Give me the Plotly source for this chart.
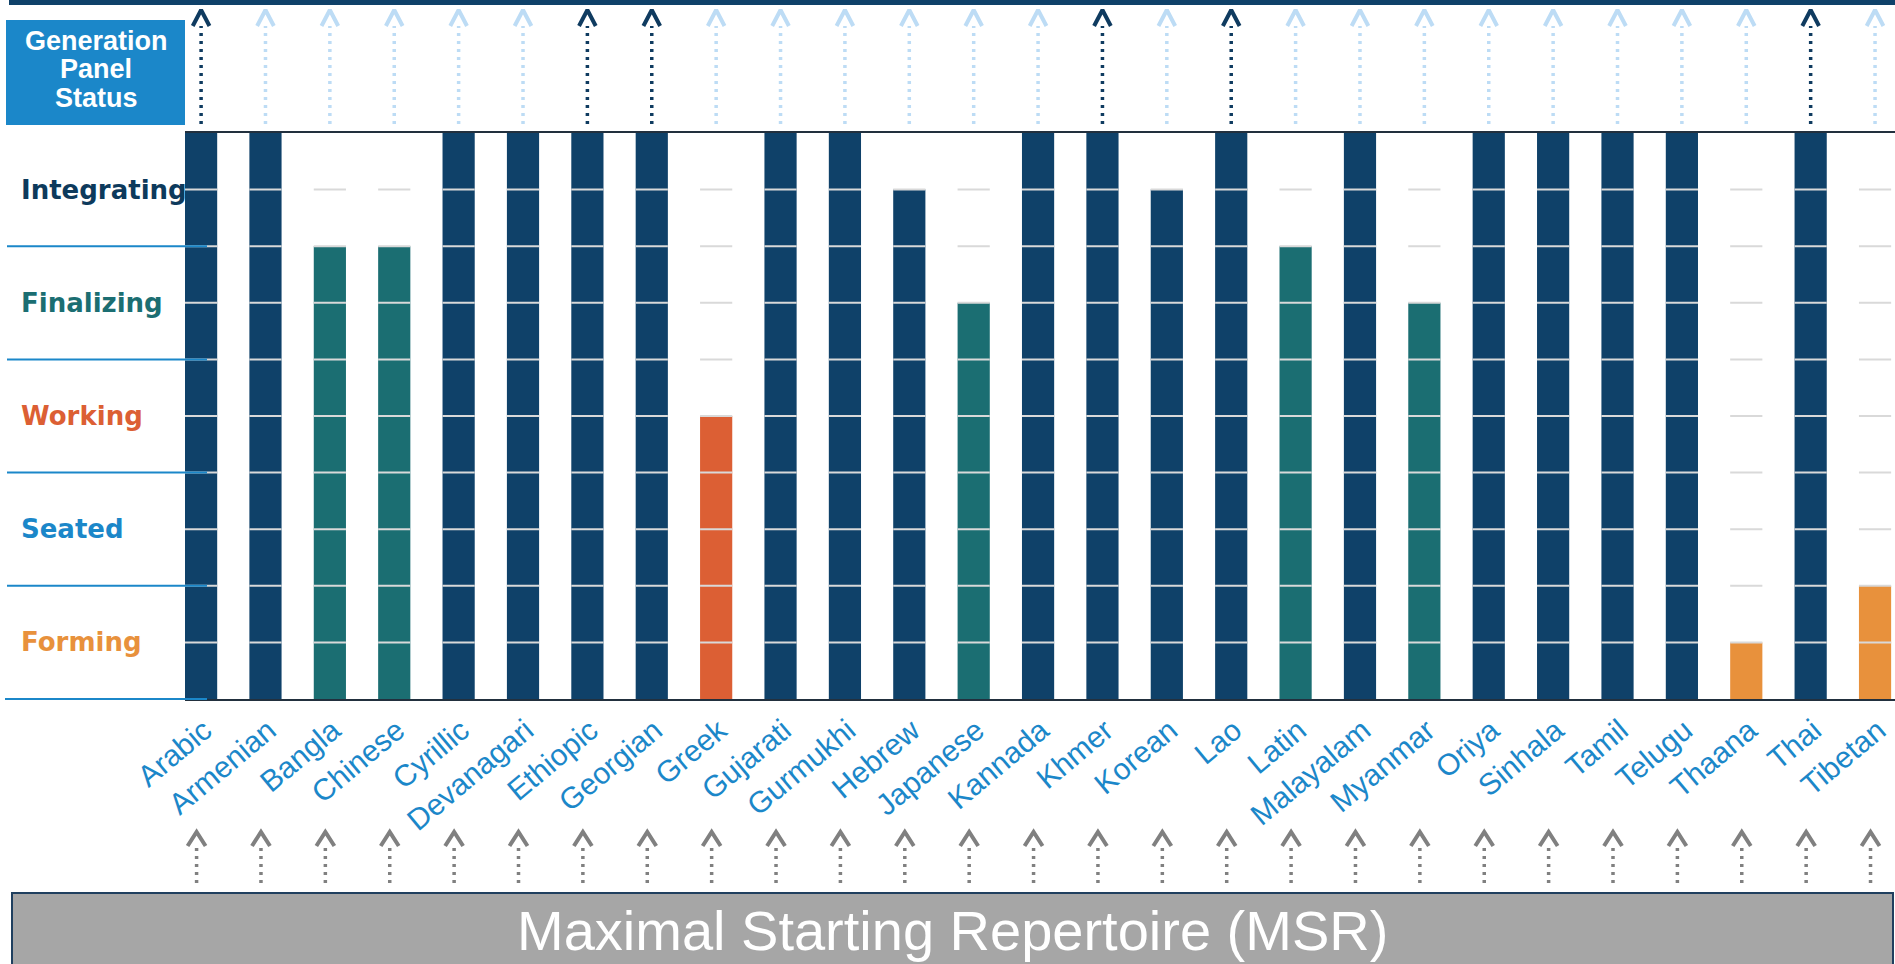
import plotly.graph_objects as go

# ---------------- data ----------------
scripts = ["Arabic", "Armenian", "Bangla", "Chinese", "Cyrillic", "Devanagari",
           "Ethiopic", "Georgian", "Greek", "Gujarati", "Gurmukhi", "Hebrew",
           "Japanese", "Kannada", "Khmer", "Korean", "Lao", "Latin", "Malayalam",
           "Myanmar", "Oriya", "Sinhala", "Tamil", "Telugu", "Thaana", "Thai",
           "Tibetan"]
progress = [10, 10, 8, 8, 10, 10, 10, 10, 5, 10, 10, 9, 7, 10, 10, 9, 10, 8,
            10, 7, 10, 10, 10, 10, 1, 10, 2]
stages = ["Forming", "Seated", "Working", "Finalizing", "Integrating"]
stage_bar_colors = ["#e8913c", "#1b87c9", "#dc5f34", "#1b6e72", "#0f4169"]
stage_text_colors = ["#e8913c", "#1b87c9", "#dc5f34", "#1b6e72", "#0d3a5c"]
panel_complete = ["Arabic", "Ethiopic", "Georgian", "Khmer", "Lao", "Thai"]
panel_title = ["Generation", "Panel", "Status"]
bottom_title = "Maximal Starting Repertoire (MSR)"

# ---------------- geometry constants ----------------
W, H = 1895, 964
PLOT_L, PLOT_T, PLOT_B = 185, 133, 699
n = len(scripts)
idx = list(range(n))
BW = 0.5

fig = go.Figure()

# bars
bar_colors = [stage_bar_colors[(v - 1) // 2] for v in progress]
fig.add_trace(go.Bar(x=idx, y=progress, width=BW, marker=dict(color=bar_colors, line=dict(width=0)),
                     xaxis="x", yaxis="y", hoverinfo="skip"))

# grid segments, only across each category slot
gx, gy = [], []
for i in idx:
    for lvl in range(1, 10):
        gx += [i - BW / 2, i + BW / 2, None]
        gy += [lvl, lvl, None]
fig.add_trace(go.Scatter(x=gx, y=gy, mode="lines", line=dict(color="#d9d9d9", width=2),
                         xaxis="x", yaxis="y", hoverinfo="skip"))


def arrow_traces(xs, color, y_tail, y_neck, y_tip, hw, yaxis, dash):
    sx, sy, hx, hy = [], [], [], []
    for x in xs:
        sx += [x, x, None]
        sy += [y_tail, y_neck, None]
        hx += [x - hw, x, x + hw, None]
        hy += [y_neck, y_tip, y_neck, None]
    fig.add_trace(go.Scatter(x=sx, y=sy, mode="lines", line=dict(color=color, width=3.5, dash=dash),
                             xaxis="x", yaxis=yaxis, hoverinfo="skip"))
    fig.add_trace(go.Scatter(x=hx, y=hy, mode="lines", line=dict(color=color, width=4),
                             xaxis="x", yaxis=yaxis, hoverinfo="skip"))


# top arrows (generation panel status)
dark_x = [i for i, s in zip(idx, scripts) if s in panel_complete]
light_x = [i for i, s in zip(idx, scripts) if s not in panel_complete]
arrow_traces(light_x, "#bddcf5", 124, 26, 10, 0.13, "y2", "3px,5px")
arrow_traces(dark_x, "#0f3b60", 124, 26, 10, 0.13, "y2", "3px,5px")

# bottom arrows (MSR)
arrow_traces([i - 0.07 for i in idx], "#808080", 883, 846, 832, 0.14, "y3", "3px,5px")

fig.update_layout(
    width=W, height=H,
    margin=dict(l=0, r=0, t=0, b=0, autoexpand=False),
    paper_bgcolor="white", plot_bgcolor="white",
    showlegend=False,
    xaxis=dict(domain=[PLOT_L / W, 1], range=[-0.25, 26.31], anchor="y", automargin=False,
               tickmode="array", tickvals=idx, ticktext=scripts, tickangle=-40,
               ticklabelshift=3, ticklabeloverflow="allow",
               tickfont=dict(family="Liberation Sans, Arial", size=30, color="#1b87c9"),
               showgrid=False, zeroline=False, showline=True, mirror=True,
               linecolor="#22303e", linewidth=2, ticks=""),
    yaxis=dict(domain=[1 - PLOT_B / H, 1 - PLOT_T / H], range=[0, 10], anchor="x", automargin=False,
               showticklabels=False, showgrid=False, zeroline=False, showline=False),
    yaxis2=dict(domain=[1 - PLOT_T / H, 1], range=[PLOT_T, 0], anchor="x", visible=False,
                automargin=False),
    yaxis3=dict(domain=[0, 1 - PLOT_B / H], range=[H, PLOT_B], anchor="x", visible=False,
                automargin=False),
)

shapes = []
# top navy band
shapes.append(dict(type="rect", xref="paper", yref="paper", x0=9 / W, x1=1, y0=1 - 5 / H, y1=1,
                   fillcolor="#0f4169", line=dict(width=0), layer="above"))
# generation panel box
shapes.append(dict(type="rect", xref="paper", yref="paper", x0=6 / W, x1=185 / W,
                   y0=1 - 125 / H, y1=1 - 20 / H, fillcolor="#1b87c9", line=dict(width=0)))
# bottom grey box
shapes.append(dict(type="rect", xref="paper", yref="paper", x0=12 / W, x1=1893 / W,
                   y0=-0.01, y1=1 - 893 / H, fillcolor="#a6a6a6",
                   line=dict(color="#1f3f5f", width=2)))
# stage separators
for lvl in [2, 4, 6, 8]:
    shapes.append(dict(type="line", xref="paper", yref="y", x0=7 / W, x1=207 / W, y0=lvl, y1=lvl,
                       line=dict(color="#1b87c9", width=2), layer="above"))
shapes.append(dict(type="line", xref="paper", yref="y domain", x0=5 / W, x1=207 / W, y0=0, y1=0,
                   line=dict(color="#1b87c9", width=2), layer="above"))
fig.update_layout(shapes=shapes)

ann = []
for k, (st, col) in enumerate(zip(stages, stage_text_colors)):
    ann.append(dict(xref="paper", yref="y", x=19 / W, y=2 * k + 1, xanchor="left", yanchor="middle",
                    text="<b>" + st + "</b>", showarrow=False,
                    font=dict(family="DejaVu Sans", size=26, color=col)))
for j, t in enumerate(panel_title):
    ann.append(dict(xref="paper", yref="paper", x=96 / W, y=1 - (41 + 28.5 * j) / H,
                    xanchor="center", yanchor="middle", text="<b>" + t + "</b>", showarrow=False,
                    font=dict(family="Liberation Sans, Arial", size=27, color="white")))
ann.append(dict(xref="paper", yref="paper", x=952 / W, y=1 - 930 / H, xanchor="center",
                yanchor="middle", text=bottom_title, showarrow=False,
                font=dict(family="Liberation Sans Narrow, Arial Narrow, Liberation Sans", size=56,
                          color="white")))
fig.update_layout(annotations=ann)

fig.write_html("out.html", config={"displayModeBar": False},
               post_script="document.body.style.margin='0';document.body.style.overflow='hidden';")
